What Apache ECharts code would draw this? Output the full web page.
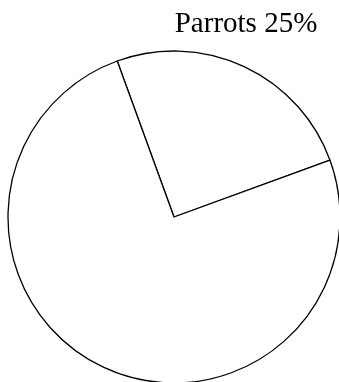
<!DOCTYPE html>
<html>
<head>
<meta charset="utf-8">
<script src="https://cdn.jsdelivr.net/npm/echarts@6/dist/echarts.min.js"></script>
<style>
html,body{margin:0;padding:0;background:#fff;}
#chart{width:339px;height:382px;}
</style>
</head>
<body>
<div id="chart"></div>
<script>
var categories = ['Parrots', 'Other'];
var values = [25, 75];
var showLabel = [true, false];

var chart = echarts.init(document.getElementById('chart'), null, {renderer: 'canvas'});
var data = categories.map(function (c, i) {
  return {name: c, value: values[i], label: {show: showLabel[i]}};
});
chart.setOption({
  animation: false,
  backgroundColor: '#ffffff',
  series: [{
    type: 'pie',
    center: [174, 217],
    radius: 166,
    startAngle: 110,
    clockwise: true,
    avoidLabelOverlap: false,
    silent: true,
    itemStyle: {color: '#ffffff', borderColor: '#000000', borderWidth: 1.3},
    label: {
      position: 'outside',
      formatter: function (p) { return p.name + ' ' + p.value + '%'; },
      fontFamily: 'Liberation Serif',
      fontSize: 29,
      color: '#000000'
    },
    labelLine: {show: false},
    labelLayout: function () {
      return {x: 246, y: 24, align: 'center', verticalAlign: 'middle'};
    },
    data: data
  }]
});
</script>
</body>
</html>
